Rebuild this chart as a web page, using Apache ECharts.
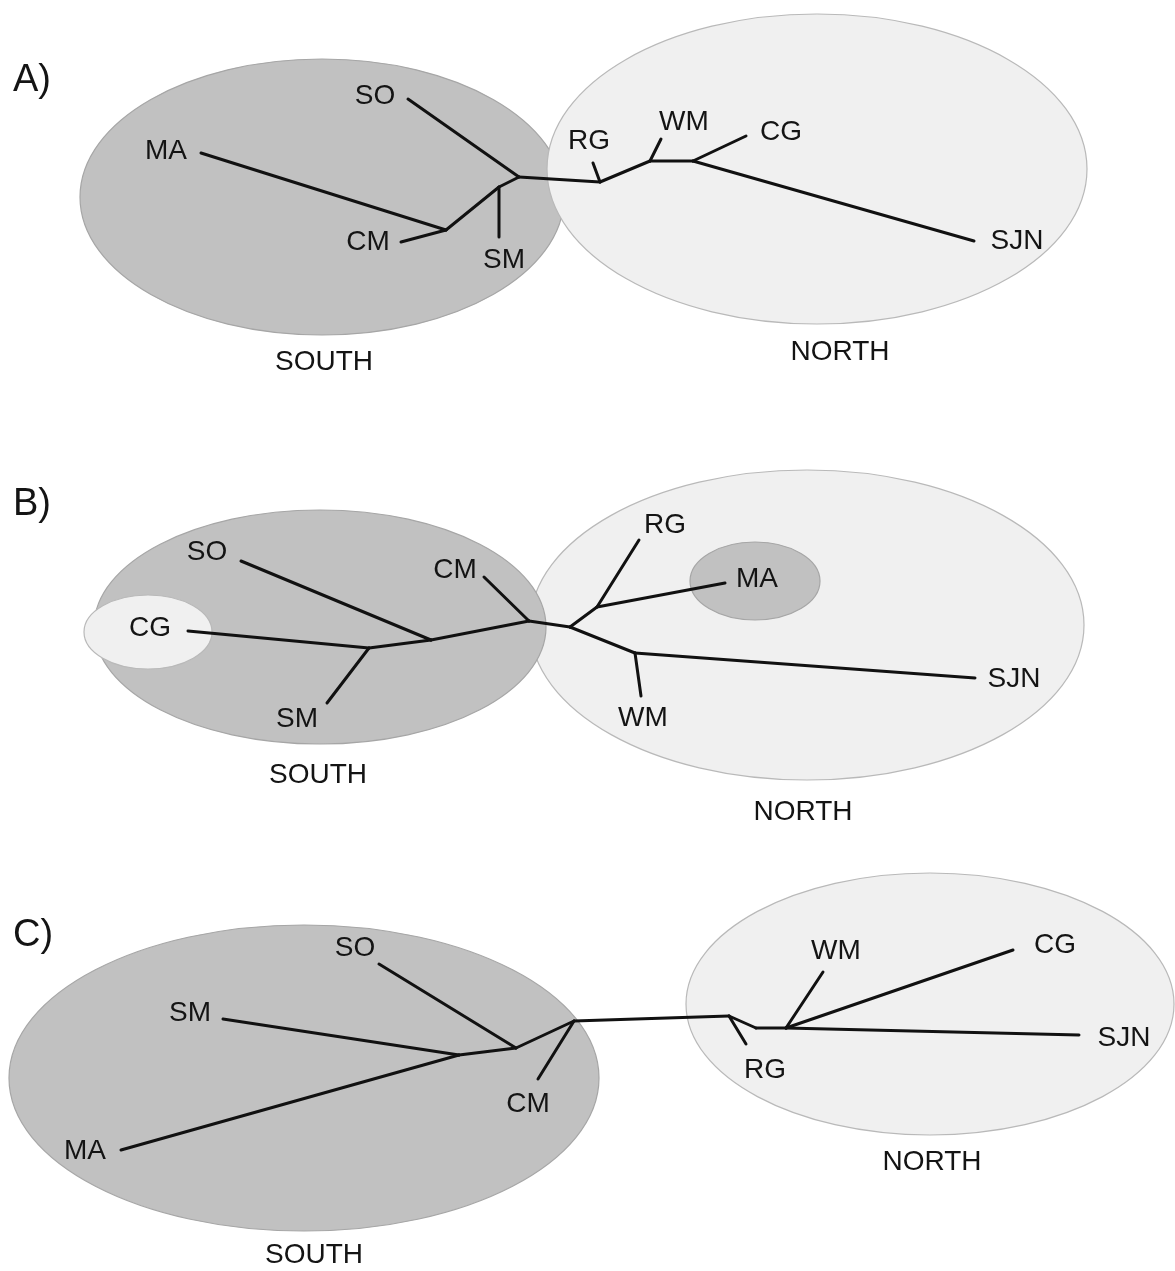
<!DOCTYPE html>
<html><head><meta charset="utf-8">
<script src="https://cdn.jsdelivr.net/npm/echarts@6/dist/echarts.min.js"></script>
<style>html,body{margin:0;padding:0;background:#fff}#c{width:1175px;height:1271px}</style>
</head><body><div id="c"></div>
<script>
// Region ellipses: [cx, cy, rx, ry] in diagram units, with region type
const ellipseShapes = [
  [322, 197, 242, 138], [817, 169, 270, 155],
  [807, 625, 277, 155], [320, 627, 226, 117], [148, 632, 64, 37], [755, 581, 65, 39],
  [304, 1078, 295, 153], [930, 1004, 244, 131]
];
const ellipseRegion = ['south', 'north', 'north', 'south', 'north', 'south', 'south', 'north'];

// Tree branches (segments between nodes) per panel: [x1, y1, x2, y2]
const edgesA = [
  [408, 99, 519, 177], [519, 177, 499, 187], [499, 187, 499, 237], [499, 187, 446, 230],
  [201, 153, 446, 230], [446, 230, 401, 242], [519, 177, 600, 182], [593, 163, 600, 182],
  [600, 182, 650, 161], [661, 139, 650, 161], [650, 161, 693, 161], [693, 161, 746, 136],
  [693, 161, 974, 241]
];
const edgesB = [
  [188, 631, 369, 648], [327, 703, 369, 648], [369, 648, 431, 640], [241, 561, 431, 640],
  [431, 640, 529, 621], [484, 577, 529, 621], [529, 621, 570, 627], [570, 627, 597, 607],
  [597, 607, 639, 540], [597, 607, 725, 583], [570, 627, 635, 653], [635, 653, 641, 696],
  [635, 653, 975, 678]
];
const edgesC = [
  [379, 964, 516, 1048], [223, 1019, 459, 1055], [121, 1150, 459, 1055], [459, 1055, 516, 1048],
  [516, 1048, 574, 1021], [574, 1021, 538, 1079], [574, 1021, 729, 1016], [729, 1016, 746, 1044],
  [729, 1016, 756, 1028], [756, 1028, 786, 1028], [786, 1028, 823, 972], [786, 1028, 1013, 950],
  [786, 1028, 1079, 1035]
];

// Population labels: [x, y, text]
const popLabels = [
  [375, 96, 'SO'], [166, 151, 'MA'], [368, 242, 'CM'], [504, 260, 'SM'],
  [589, 141, 'RG'], [684, 122, 'WM'], [781, 132, 'CG'], [1017, 241, 'SJN'],
  [207, 552, 'SO'], [455, 570, 'CM'], [150, 628, 'CG'], [297, 719, 'SM'],
  [665, 525, 'RG'], [757, 579, 'MA'], [643, 718, 'WM'], [1014, 679, 'SJN'],
  [355, 948, 'SO'], [190, 1013, 'SM'], [85, 1151, 'MA'], [528, 1104, 'CM'],
  [836, 951, 'WM'], [1055, 945, 'CG'], [1124, 1038, 'SJN'], [765, 1070, 'RG']
];
// Region labels
const regionLabels = [
  [324, 362, 'SOUTH'], [840, 352, 'NORTH'],
  [318, 775, 'SOUTH'], [803, 812, 'NORTH'],
  [314, 1255, 'SOUTH'], [932, 1162, 'NORTH']
];
// Panel labels
const panelLabels = [[13, 81, 'A)'], [13, 505, 'B)'], [13, 936, 'C)']];

const FONT = '"Liberation Sans", Arial, Helvetica, sans-serif';
const regionStyle = {
  south: { fill: '#c1c1c1', stroke: '#a6a6a6' },
  north: { fill: '#f0f0f0', stroke: '#b9b9b9' }
};

function textSeries(arr, size, align) {
  return {
    type: 'custom', coordinateSystem: 'cartesian2d', clip: false, z: 5,
    data: arr.map(d => [d[0], d[1]]),
    encode: { x: 0, y: 1 },
    renderItem(params, api) {
      const p = api.coord([api.value(0), api.value(1)]);
      return {
        type: 'text', x: p[0], y: p[1],
        style: {
          text: arr[params.dataIndex][2], fontSize: size, fontFamily: FONT,
          fill: '#141414', align: align, verticalAlign: 'middle'
        }
      };
    }
  };
}
function edgeSeries(arr) {
  return {
    type: 'custom', coordinateSystem: 'cartesian2d', clip: false, z: 3,
    data: arr,
    encode: { x: [0, 2], y: [1, 3] },
    renderItem(params, api) {
      const a = api.coord([api.value(0), api.value(1)]);
      const b = api.coord([api.value(2), api.value(3)]);
      return {
        type: 'line', shape: { x1: a[0], y1: a[1], x2: b[0], y2: b[1] },
        style: { stroke: '#111111', lineWidth: 3, lineCap: 'round' }
      };
    }
  };
}

const chart = echarts.init(document.getElementById('c'), null, { renderer: 'canvas' });
chart.setOption({
  animation: false,
  backgroundColor: '#ffffff',
  grid: { left: 0, right: 0, top: 0, bottom: 0 },
  xAxis: { type: 'value', min: 0, max: 1175, show: false },
  yAxis: { type: 'value', min: 0, max: 1271, inverse: true, show: false },
  series: [
    {
      type: 'custom', coordinateSystem: 'cartesian2d', clip: false, z: 1,
      data: ellipseShapes,
      encode: { x: 0, y: 1 },
      renderItem(params, api) {
        const c = api.coord([api.value(0), api.value(1)]);
        const s = api.size([api.value(2), api.value(3)]);
        const st = regionStyle[ellipseRegion[params.dataIndex]];
        return {
          type: 'ellipse', z2: params.dataIndex,
          shape: { cx: c[0], cy: c[1], rx: s[0], ry: s[1] },
          style: { fill: st.fill, stroke: st.stroke, lineWidth: 1.2 }
        };
      }
    },
    edgeSeries(edgesA), edgeSeries(edgesB), edgeSeries(edgesC),
    textSeries(popLabels, 28, 'center'),
    textSeries(regionLabels, 28, 'center'),
    textSeries(panelLabels, 38, 'left')
  ]
});
</script>
</body></html>
